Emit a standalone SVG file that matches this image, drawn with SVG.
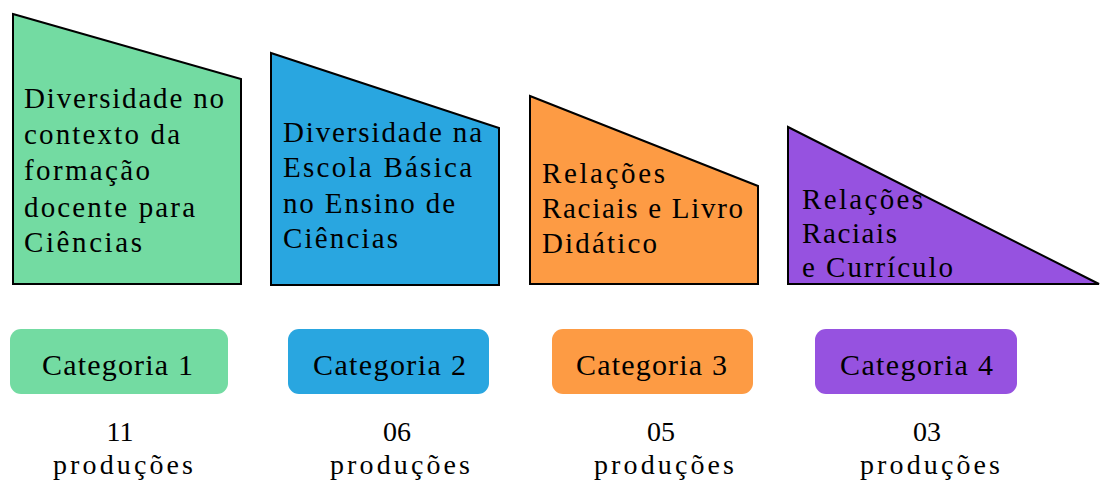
<svg xmlns="http://www.w3.org/2000/svg" width="1102" height="482" viewBox="0 0 1102 482">
<style>
.shape{stroke:#000;stroke-width:2;stroke-linejoin:miter}
.box{stroke:none}
.t{fill:#000;font-family:"Liberation Serif","Times New Roman",Tinos,"Noto Serif","DejaVu Serif","Nimbus Roman","FreeSerif",Times,serif}
.main{font-size:29px}
.cat{font-size:30px}
.num{font-size:28px;text-anchor:middle}
.g{fill:#73DBA2}.b{fill:#29A6E0}.o{fill:#FD9B44}.p{fill:#9652E0}
</style>
<rect width="1102" height="482" fill="#fff"/>
<g id="connectors"/>
<g id="node-shape1">
<path class="shape g" d="M13,14 L241,79 L241,284 L13,284 Z"/>
<text class="t main" x="24" y="108" textLength="200">Diversidade no</text>
<text class="t main" x="24" y="144" textLength="156">contexto da</text>
<text class="t main" x="24" y="180" textLength="126">formação</text>
<text class="t main" x="24" y="217" textLength="171">docente para</text>
<text class="t main" x="24" y="252" textLength="118">Ciências</text>
</g>
<g id="node-shape2">
<path class="shape b" d="M271,53 L499,128 L499,285 L271,285 Z"/>
<text class="t main" x="283" y="142" textLength="199">Diversidade na</text>
<text class="t main" x="283" y="177" textLength="189">Escola Básica</text>
<text class="t main" x="283" y="213" textLength="172">no Ensino de</text>
<text class="t main" x="283" y="248" textLength="115">Ciências</text>
</g>
<g id="node-shape3">
<path class="shape o" d="M530,96 L758,186 L758,284 L530,284 Z"/>
<text class="t main" x="542" y="183" textLength="123">Relações</text>
<text class="t main" x="542" y="218" textLength="201">Raciais e Livro</text>
<text class="t main" x="542" y="253" textLength="115">Didático</text>
</g>
<g id="node-shape4">
<path class="shape p" d="M788,127 L1099,284 L788,284 Z"/>
<text class="t main" x="802" y="209" textLength="121">Relações</text>
<text class="t main" x="802" y="243" textLength="95">Raciais</text>
<text class="t main" x="802" y="277" textLength="151">e Currículo</text>
</g>
<g id="node-cat1">
<rect class="box g" x="10" y="329" width="218" height="65" rx="11"/>
<text class="t cat" x="42" y="375" textLength="151">Categoria 1</text>
</g>
<g id="node-cat2">
<rect class="box b" x="288" y="329" width="201" height="65" rx="11"/>
<text class="t cat" x="313" y="375" textLength="153">Categoria 2</text>
</g>
<g id="node-cat3">
<rect class="box o" x="552" y="329" width="201" height="65" rx="11"/>
<text class="t cat" x="576" y="375" textLength="151">Categoria 3</text>
</g>
<g id="node-cat4">
<rect class="box p" x="815" y="329" width="202" height="65" rx="11"/>
<text class="t cat" x="840" y="375" textLength="153">Categoria 4</text>
</g>
<g id="node-count1">
<text class="t num" x="120" y="441">11</text>
<text class="t num" x="123" y="474" textLength="140">produções</text>
</g>
<g id="node-count2">
<text class="t num" x="397" y="441">06</text>
<text class="t num" x="400" y="474" textLength="140">produções</text>
</g>
<g id="node-count3">
<text class="t num" x="661" y="441">05</text>
<text class="t num" x="664" y="474" textLength="140">produções</text>
</g>
<g id="node-count4">
<text class="t num" x="927" y="441">03</text>
<text class="t num" x="930" y="474" textLength="140">produções</text>
</g>
</svg>
